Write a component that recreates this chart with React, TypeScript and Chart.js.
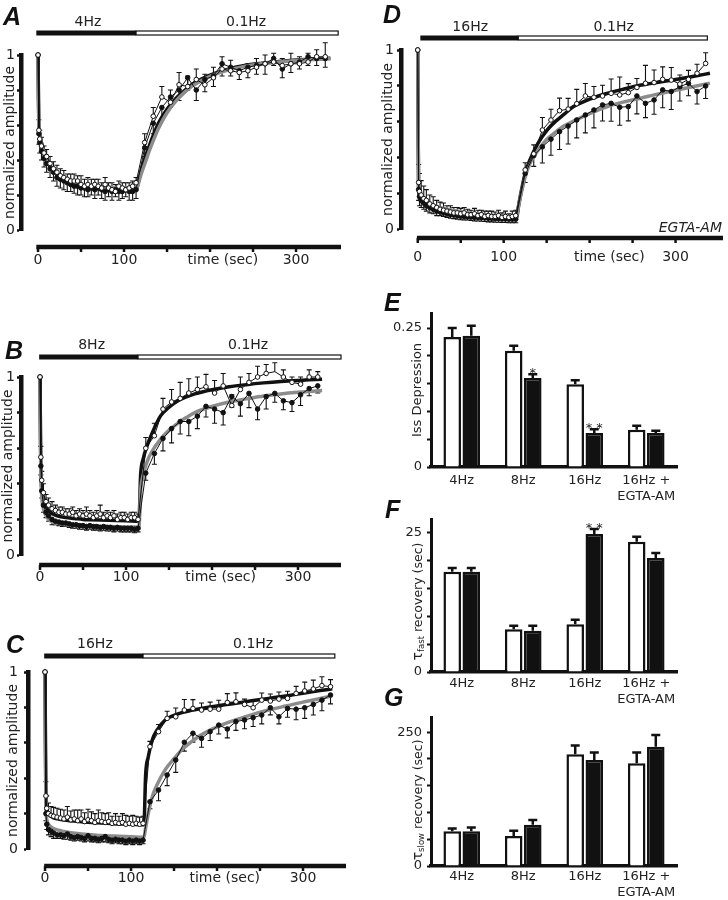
import React, { useEffect, useRef } from 'react';
import { Chart, registerables } from 'chart.js';
Chart.register(...registerables);

const FONT = '"DejaVu Sans", sans-serif';
const INK = '#111111';
const GRAY = '#8c8c8c';
const TEXT = '#222222';

// ---------- shared axes ----------
const lineYTicks = [0, 0.2, 0.4, 0.6, 0.8, 1];
const lineYLabels = ['0', '', '', '', '', '1'];
const xTickMarks = [0, 50, 100, 150, 200, 250, 300];
const xTickTexts = ['0', '100', 'time (sec)', '300'];

// sampling times during stimulation (s)
const stimTimes = [0, 1, 2, 4, 7, 10, 14, 18, 22, 26, 30, 34, 38, 42, 46, 50, 54, 58, 62, 66, 70, 74, 78, 82, 86, 90, 94, 98, 102, 106, 110, 114];
// times of the fitted curves (s)
const fitTimesBase = [0, 0.5, 1, 2, 4, 7, 10, 15, 20, 30, 40, 50, 60, 80, 100, 115, 117, 120, 125, 130, 140, 150, 160, 170, 180, 200, 220, 240, 260, 280, 300, 320];

// ---------- panel A (4Hz) ----------
const aRecT = [124, 134, 144, 154, 164, 174, 184, 194, 204, 214, 224, 234, 244, 254, 264, 274, 284, 294, 304, 314, 324, 334];
const aOpenStim = [1.0, 0.57, 0.52, 0.48, 0.44, 0.42, 0.38, 0.35, 0.33, 0.31, 0.30, 0.29, 0.28, 0.28, 0.28, 0.26, 0.25, 0.26, 0.25, 0.26, 0.25, 0.24, 0.26, 0.24, 0.23, 0.22, 0.25, 0.24, 0.23, 0.24, 0.25, 0.27];
const aOpenStimErr = [0, 0.06, 0.05, 0.05, 0.04, 0.04, 0.04, 0.04, 0.04, 0.04, 0.04, 0.03, 0.04, 0.04, 0.03, 0.05, 0.04, 0.04, 0.04, 0.03, 0.04, 0.03, 0.04, 0.03, 0.04, 0.04, 0.03, 0.03, 0.04, 0.03, 0.03, 0.03];
const aFilledStim = [1.0, 0.55, 0.5, 0.45, 0.41, 0.38, 0.35, 0.33, 0.30, 0.29, 0.28, 0.27, 0.26, 0.25, 0.25, 0.24, 0.24, 0.23, 0.24, 0.23, 0.24, 0.23, 0.22, 0.23, 0.22, 0.23, 0.22, 0.22, 0.23, 0.22, 0.22, 0.23];
const aFilledStimErr = [0, 0.06, 0.06, 0.05, 0.05, 0.05, 0.05, 0.05, 0.05, 0.05, 0.05, 0.05, 0.04, 0.04, 0.05, 0.04, 0.05, 0.04, 0.04, 0.05, 0.04, 0.05, 0.05, 0.04, 0.05, 0.04, 0.05, 0.04, 0.04, 0.05, 0.05, 0.05];
const aOpenRec = [0.50, 0.65, 0.76, 0.73, 0.83, 0.82, 0.86, 0.83, 0.87, 0.92, 0.91, 0.90, 0.91, 0.93, 0.95, 0.96, 0.94, 0.95, 0.95, 0.96, 0.99, 0.99];
const aOpenRecErr = [0.05, 0.05, 0.06, 0.07, 0.07, 0.06, 0.06, 0.06, 0.06, 0.07, 0.06, 0.04, 0.04, 0.05, 0.05, 0.05, 0.04, 0.06, 0.04, 0.05, 0.04, 0.08];
const aFilledRec = [0.47, 0.61, 0.70, 0.76, 0.80, 0.87, 0.80, 0.86, 0.88, 0.95, 0.93, 0.91, 0.93, 0.94, 0.95, 0.98, 0.92, 0.95, 0.96, 0.99, 0.98, 0.98];
const aFilledRecErr = [0.05, 0.06, 0.07, 0.06, 0.06, 0.07, 0.06, 0.07, 0.06, 0.07, 0.05, 0.05, 0.06, 0.05, 0.06, 0.04, 0.05, 0.05, 0.04, 0.05, 0.04, 0.05];
const aFitEnd = 340;
const aBlackFit = [1.0, 0.75, 0.6, 0.55, 0.5, 0.45, 0.41, 0.36, 0.33, 0.29, 0.27, 0.255, 0.248, 0.242, 0.24, 0.24, 0.28, 0.34, 0.42, 0.49, 0.61, 0.69, 0.75, 0.795, 0.835, 0.885, 0.918, 0.94, 0.953, 0.963, 0.971, 0.977, 0.981];
const aGrayFit = [1.0, 0.74, 0.59, 0.54, 0.49, 0.44, 0.40, 0.355, 0.325, 0.29, 0.27, 0.256, 0.249, 0.244, 0.242, 0.242, 0.27, 0.32, 0.39, 0.46, 0.58, 0.67, 0.735, 0.785, 0.825, 0.878, 0.912, 0.935, 0.95, 0.96, 0.968, 0.974, 0.978];
const aXLabelT = [0, 100, 215, 300];

// ---------- panel B (8Hz) ----------
const bRecT = [123, 133, 143, 153, 163, 173, 183, 193, 203, 213, 223, 233, 243, 253, 263, 273, 283, 293, 303, 313, 323];
const bOpenStim = [1.0, 0.55, 0.42, 0.35, 0.30, 0.28, 0.26, 0.25, 0.24, 0.24, 0.23, 0.23, 0.24, 0.22, 0.23, 0.22, 0.23, 0.22, 0.21, 0.22, 0.23, 0.21, 0.22, 0.21, 0.22, 0.20, 0.21, 0.21, 0.20, 0.21, 0.21, 0.20];
const bOpenStimErr = [0, 0.06, 0.05, 0.05, 0.04, 0.04, 0.04, 0.03, 0.03, 0.03, 0.03, 0.03, 0.03, 0.03, 0.03, 0.03, 0.04, 0.03, 0.03, 0.03, 0.05, 0.03, 0.03, 0.03, 0.03, 0.03, 0.03, 0.03, 0.03, 0.03, 0.03, 0.03];
const bFilledStim = [1.0, 0.5, 0.36, 0.28, 0.24, 0.22, 0.2, 0.19, 0.185, 0.18, 0.18, 0.175, 0.17, 0.17, 0.165, 0.165, 0.16, 0.165, 0.16, 0.16, 0.155, 0.16, 0.155, 0.155, 0.15, 0.155, 0.15, 0.15, 0.15, 0.15, 0.145, 0.15];
const bFilledStimErr = [0, 0.05, 0.04, 0.04, 0.03, 0.03, 0.03, 0.02, 0.02, 0.02, 0.02, 0.02, 0.02, 0.02, 0.02, 0.02, 0.02, 0.02, 0.02, 0.02, 0.02, 0.02, 0.02, 0.02, 0.02, 0.02, 0.02, 0.02, 0.02, 0.02, 0.02, 0.02];
const bOpenRec = [0.60, 0.67, 0.82, 0.86, 0.88, 0.91, 0.93, 0.945, 0.91, 0.95, 0.84, 0.93, 0.97, 1.0, 1.02, 1.03, 1.0, 0.97, 0.96, 1.0, 1.0];
const bOpenRecErr = [0.06, 0.07, 0.06, 0.07, 0.09, 0.08, 0.07, 0.07, 0.07, 0.07, 0.06, 0.07, 0.05, 0.06, 0.05, 0.05, 0.04, 0.03, 0.04, 0.04, 0.03];
const bFilledRec = [0.46, 0.57, 0.655, 0.71, 0.75, 0.75, 0.78, 0.835, 0.82, 0.80, 0.89, 0.85, 0.908, 0.82, 0.89, 0.908, 0.866, 0.856, 0.9, 0.935, 0.95];
const bFilledRecErr = [0.04, 0.06, 0.07, 0.08, 0.07, 0.08, 0.07, 0.06, 0.08, 0.07, 0.06, 0.07, 0.08, 0.06, 0.07, 0.05, 0.05, 0.05, 0.06, 0.04, 0.04];
const bFitEnd = 328;
const bBlackFit = [1.0, 0.7, 0.5, 0.38, 0.31, 0.27, 0.25, 0.23, 0.22, 0.21, 0.205, 0.2, 0.198, 0.195, 0.193, 0.19, 0.45, 0.54, 0.62, 0.68, 0.78, 0.83, 0.865, 0.888, 0.905, 0.928, 0.945, 0.957, 0.967, 0.975, 0.981, 0.986, 0.988];
const bGrayFit = [1.0, 0.65, 0.45, 0.33, 0.26, 0.22, 0.2, 0.185, 0.178, 0.17, 0.167, 0.165, 0.163, 0.16, 0.158, 0.157, 0.36, 0.45, 0.53, 0.58, 0.65, 0.70, 0.74, 0.772, 0.80, 0.835, 0.86, 0.877, 0.893, 0.905, 0.914, 0.921, 0.924];
const bXLabelT = [0, 100, 210, 300];

// ---------- panel C (16Hz) ----------
const cRecT = [122, 132, 142, 152, 162, 172, 182, 192, 202, 212, 222, 232, 242, 252, 262, 272, 282, 292, 302, 312, 322, 332];
const cOpenStim = [1.0, 0.30, 0.23, 0.2, 0.19, 0.185, 0.18, 0.175, 0.17, 0.18, 0.165, 0.17, 0.16, 0.17, 0.155, 0.165, 0.16, 0.15, 0.16, 0.155, 0.15, 0.155, 0.145, 0.15, 0.145, 0.15, 0.14, 0.145, 0.14, 0.145, 0.14, 0.145];
const cOpenStimErr = [0, 0.08, 0.07, 0.06, 0.05, 0.05, 0.05, 0.05, 0.05, 0.06, 0.05, 0.05, 0.06, 0.05, 0.05, 0.06, 0.05, 0.05, 0.06, 0.05, 0.05, 0.05, 0.04, 0.05, 0.04, 0.05, 0.05, 0.04, 0.05, 0.04, 0.04, 0.04];
const cFilledStim = [1.0, 0.2, 0.14, 0.11, 0.1, 0.09, 0.08, 0.08, 0.075, 0.085, 0.07, 0.065, 0.07, 0.065, 0.06, 0.075, 0.06, 0.06, 0.055, 0.06, 0.07, 0.055, 0.05, 0.055, 0.05, 0.05, 0.045, 0.05, 0.045, 0.05, 0.045, 0.05];
const cFilledStimErr = [0, 0.04, 0.03, 0.03, 0.03, 0.03, 0.02, 0.02, 0.02, 0.03, 0.02, 0.02, 0.02, 0.02, 0.02, 0.03, 0.02, 0.02, 0.02, 0.02, 0.03, 0.02, 0.02, 0.02, 0.02, 0.02, 0.02, 0.02, 0.02, 0.02, 0.02, 0.02];
const cOpenRec = [0.578, 0.663, 0.738, 0.747, 0.785, 0.794, 0.785, 0.79, 0.79, 0.828, 0.832, 0.817, 0.798, 0.841, 0.836, 0.847, 0.851, 0.879, 0.893, 0.904, 0.923, 0.917];
const cOpenRecErr = [0.03, 0.04, 0.04, 0.05, 0.06, 0.05, 0.04, 0.04, 0.05, 0.05, 0.05, 0.03, 0.04, 0.04, 0.04, 0.04, 0.04, 0.04, 0.05, 0.05, 0.05, 0.04];
const cFilledRec = [0.267, 0.333, 0.418, 0.503, 0.603, 0.654, 0.625, 0.663, 0.70, 0.678, 0.72, 0.729, 0.742, 0.757, 0.798, 0.747, 0.794, 0.79, 0.798, 0.817, 0.841, 0.87];
const cFilledRecErr = [0.04, 0.06, 0.06, 0.07, 0.05, 0.05, 0.05, 0.05, 0.05, 0.05, 0.05, 0.05, 0.05, 0.05, 0.04, 0.04, 0.05, 0.06, 0.06, 0.06, 0.06, 0.05];
const cFitEnd = 334;
const cBlackFit = [1.0, 0.6, 0.35, 0.24, 0.2, 0.185, 0.175, 0.17, 0.165, 0.16, 0.155, 0.151, 0.148, 0.143, 0.14, 0.137, 0.42, 0.52, 0.62, 0.67, 0.73, 0.755, 0.772, 0.783, 0.792, 0.808, 0.822, 0.837, 0.851, 0.865, 0.88, 0.895, 0.905];
const cGrayFit = [1.0, 0.5, 0.25, 0.17, 0.14, 0.125, 0.115, 0.107, 0.1, 0.092, 0.086, 0.082, 0.078, 0.073, 0.069, 0.066, 0.12, 0.2, 0.3, 0.36, 0.45, 0.51, 0.565, 0.605, 0.64, 0.69, 0.727, 0.758, 0.785, 0.808, 0.83, 0.85, 0.865];
const cXLabelT = [0, 100, 209, 300];

// ---------- panel D (16Hz, EGTA-AM) ----------
const dRecT = [125, 135, 145, 155, 165, 175, 185, 195, 205, 215, 225, 235, 245, 255, 265, 275, 285, 295, 305, 315, 325, 335];
const dOpenStim = [1.0, 0.26, 0.21, 0.19, 0.17, 0.16, 0.14, 0.13, 0.12, 0.11, 0.105, 0.1, 0.095, 0.09, 0.09, 0.085, 0.09, 0.08, 0.08, 0.085, 0.075, 0.08, 0.07, 0.075, 0.07, 0.07, 0.075, 0.065, 0.07, 0.065, 0.07, 0.075];
const dOpenStimErr = [0, 0.1, 0.1, 0.08, 0.07, 0.06, 0.05, 0.05, 0.04, 0.04, 0.04, 0.03, 0.035, 0.03, 0.03, 0.03, 0.03, 0.03, 0.025, 0.03, 0.03, 0.025, 0.03, 0.025, 0.03, 0.025, 0.03, 0.025, 0.03, 0.02, 0.03, 0.03];
const dFilledStim = [1.0, 0.22, 0.18, 0.16, 0.145, 0.13, 0.12, 0.11, 0.1, 0.095, 0.09, 0.085, 0.08, 0.078, 0.075, 0.072, 0.07, 0.07, 0.068, 0.065, 0.065, 0.063, 0.062, 0.06, 0.06, 0.058, 0.058, 0.057, 0.056, 0.055, 0.055, 0.055];
const dFilledStimErr = [0, 0.06, 0.05, 0.04, 0.035, 0.03, 0.03, 0.025, 0.025, 0.02, 0.02, 0.02, 0.02, 0.02, 0.02, 0.02, 0.02, 0.02, 0.02, 0.02, 0.02, 0.02, 0.02, 0.02, 0.02, 0.02, 0.02, 0.02, 0.02, 0.02, 0.02, 0.02];
const dOpenRec = [0.33, 0.42, 0.553, 0.609, 0.661, 0.67, 0.70, 0.743, 0.736, 0.743, 0.758, 0.749, 0.762, 0.791, 0.814, 0.818, 0.836, 0.832, 0.81, 0.836, 0.87, 0.925];
const dOpenRecErr = [0.04, 0.05, 0.07, 0.06, 0.07, 0.06, 0.08, 0.07, 0.06, 0.06, 0.08, 0.1, 0.05, 0.05, 0.1, 0.07, 0.07, 0.07, 0.05, 0.05, 0.05, 0.06];
const dFilledRec = [0.31, 0.41, 0.459, 0.502, 0.544, 0.575, 0.609, 0.637, 0.665, 0.693, 0.702, 0.68, 0.684, 0.743, 0.702, 0.721, 0.777, 0.768, 0.795, 0.814, 0.768, 0.799];
const dFilledRecErr = [0.05, 0.06, 0.09, 0.09, 0.1, 0.1, 0.1, 0.1, 0.1, 0.09, 0.1, 0.1, 0.08, 0.1, 0.08, 0.08, 0.1, 0.1, 0.08, 0.07, 0.07, 0.07];
const dFitEnd = 340;
const dBlackFit = [1.0, 0.5, 0.22, 0.18, 0.165, 0.15, 0.14, 0.128, 0.118, 0.105, 0.097, 0.09, 0.083, 0.074, 0.066, 0.06, 0.12, 0.2, 0.31, 0.38, 0.48, 0.55, 0.60, 0.64, 0.68, 0.725, 0.757, 0.782, 0.804, 0.82, 0.835, 0.852, 0.87];
const dGrayFit = [1.0, 0.52, 0.24, 0.2, 0.18, 0.165, 0.15, 0.138, 0.128, 0.115, 0.105, 0.097, 0.09, 0.08, 0.072, 0.067, 0.12, 0.19, 0.29, 0.36, 0.44, 0.50, 0.54, 0.575, 0.60, 0.645, 0.683, 0.71, 0.732, 0.755, 0.775, 0.795, 0.815];
const dXLabelT = [0, 100, 223, 300];

// ---------- bar panels ----------
const barCategories = ['4Hz', '8Hz', '16Hz', ['16Hz +', 'EGTA-AM']];

const eWhite = [0.234, 0.209, 0.149, 0.067];
const eWhiteErr = [0.016, 0.009, 0.007, 0.007];
const eBlack = [0.236, 0.160, 0.061, 0.061];
const eBlackErr = [0.018, 0.007, 0.007, 0.004];
const eBlackStars = ['', '*', '* *', ''];
const eTicks = [0, 0.05, 0.1, 0.15, 0.2, 0.25];
const eTickLabels = ['0', '', '', '', '', '0.25'];

const fWhite = [18.0, 7.7, 8.6, 23.4];
const fWhiteErr = [0.7, 0.6, 0.8, 0.9];
const fBlack = [18.0, 7.4, 24.8, 20.5];
const fBlackErr = [0.7, 0.9, 0.9, 0.9];
const fBlackStars = ['', '', '* *', ''];
const fTicks = [0, 5, 10, 15, 20, 25];
const fTickLabels = ['0', '', '', '', '', '25'];

const gWhite = [65, 56, 209, 192];
const gWhiteErr = [5, 10, 16, 20];
const gBlack = [65, 77, 198, 223];
const gBlackErr = [7, 9, 14, 22];
const gBlackStars = ['', '', '', ''];
const gTicks = [0, 50, 100, 150, 200, 250];
const gTickLabels = ['0', '', '', '', '', '250'];

// ---------- plugins ----------
const errorBarsPlugin = {
  id: 'errorBars',
  beforeDatasetsDraw(chart: any) {
    const { ctx } = chart;
    const ys = chart.scales.y;
    chart.data.datasets.forEach((ds: any, i: number) => {
      if (!ds.errs) return;
      const meta = chart.getDatasetMeta(i);
      ctx.save();
      ctx.strokeStyle = INK;
      ctx.lineWidth = ds.errWidth;
      meta.data.forEach((el: any, j: number) => {
        const e = ds.errs[j];
        if (!e) return;
        const raw = ds.data[j];
        const v = typeof raw === 'number' ? raw : raw.y;
        const yA = ys.getPixelForValue(v);
        const yB = ys.getPixelForValue(v + ds.errDir * e);
        const x = el.x;
        ctx.beginPath();
        ctx.moveTo(x, yA);
        ctx.lineTo(x, yB);
        ctx.moveTo(x - ds.capHalf, yB);
        ctx.lineTo(x + ds.capHalf, yB);
        ctx.stroke();
      });
      ctx.restore();
    });
  },
  afterDatasetsDraw(chart: any) {
    const { ctx } = chart;
    const ys = chart.scales.y;
    chart.data.datasets.forEach((ds: any, i: number) => {
      if (!ds.stars) return;
      const meta = chart.getDatasetMeta(i);
      ctx.save();
      ctx.fillStyle = TEXT;
      ctx.font = `13px ${FONT}`;
      ctx.textAlign = 'center';
      ctx.textBaseline = 'alphabetic';
      meta.data.forEach((el: any, j: number) => {
        const s = ds.stars[j];
        if (!s) return;
        const top = ys.getPixelForValue(ds.data[j] + (ds.errs ? ds.errs[j] : 0));
        ctx.fillText(s, el.x, top + 3);
      });
      ctx.restore();
    });
  },
};

function makeLineDecor(p: any) {
  return {
    id: 'lineDecor',
    afterDraw(chart: any) {
      const { ctx, chartArea: ca } = chart;
      const xs = chart.scales.x;
      ctx.save();
      const y0 = ca.bottom + p.axisGap;
      ctx.strokeStyle = INK;
      ctx.lineWidth = 4.5;
      ctx.beginPath();
      ctx.moveTo(xs.getPixelForValue(p.axisFrom), y0);
      ctx.lineTo(ca.right, y0);
      ctx.stroke();
      ctx.lineWidth = 2.5;
      for (const t of xTickMarks) {
        const px = xs.getPixelForValue(t);
        ctx.beginPath();
        ctx.moveTo(px, y0);
        ctx.lineTo(px, y0 + 5);
        ctx.stroke();
      }
      const yb = ca.top - p.stimGap;
      const xa = xs.getPixelForValue(p.stimStart);
      const xm = xs.getPixelForValue(p.stimSplit);
      const xe = xs.getPixelForValue(p.stimEnd);
      ctx.fillStyle = INK;
      ctx.fillRect(xa, yb - 2.5, xm - xa, 5);
      ctx.fillStyle = '#ffffff';
      ctx.fillRect(xm, yb - 2.5, xe - xm, 5);
      ctx.lineWidth = 1.2;
      ctx.strokeRect(xm, yb - 2, xe - xm, 4);
      ctx.fillStyle = TEXT;
      ctx.font = `14px ${FONT}`;
      ctx.textAlign = 'center';
      ctx.textBaseline = 'middle';
      p.stimLabels.forEach((s: string, i: number) => ctx.fillText(s, xs.getPixelForValue(p.stimLabelT[i]), yb - p.stimTextGap));
      if (p.note) {
        ctx.font = `italic 14px ${FONT}`;
        ctx.textAlign = 'right';
        ctx.fillText(p.note, ca.right - 1, ca.bottom - 1);
      }
      ctx.restore();
    },
  };
}

function makeRichTitle(parts: any[], offsetX: number, offsetY: number) {
  return {
    id: 'richTitle',
    afterDraw(chart: any) {
      const ys = chart.scales.y;
      const ctx = chart.ctx;
      ctx.save();
      ctx.translate(ys.left + offsetX, (ys.top + ys.bottom) / 2 + offsetY);
      ctx.rotate(-Math.PI / 2);
      ctx.fillStyle = TEXT;
      ctx.textBaseline = 'alphabetic';
      ctx.textAlign = 'left';
      let total = 0;
      for (const pt of parts) {
        ctx.font = `${pt.size}px ${FONT}`;
        total += ctx.measureText(pt.text).width;
      }
      let x = -total / 2;
      for (const pt of parts) {
        ctx.font = `${pt.size}px ${FONT}`;
        ctx.fillText(pt.text, x, pt.base);
        x += ctx.measureText(pt.text).width;
      }
      ctx.restore();
    },
  };
}

const pts = (ts: number[], vs: number[]) => ts.map((t, i) => ({ x: t, y: vs[i] }));

function lineConfig(p: any) {
  const dataT = [...stimTimes, ...p.recT];
  const fitT = [...fitTimesBase, p.fitEnd];
  const common = { borderColor: INK, borderWidth: 1, pointRadius: 2.3, pointBorderColor: INK, pointBorderWidth: 1, clip: false, errWidth: 1.1, capHalf: 2.5 };
  return {
    type: 'line',
    data: {
      datasets: [
        { ...common, data: pts(dataT, [...p.openStim, ...p.openRec]), errs: [...p.openStimErr, ...p.openRecErr], errDir: 1, pointBackgroundColor: '#ffffff' },
        { ...common, data: pts(dataT, [...p.filledStim, ...p.filledRec]), errs: [...p.filledStimErr, ...p.filledRecErr], errDir: -1, pointBackgroundColor: INK },
        { data: pts(fitT, p.grayFit), borderColor: GRAY, borderWidth: 3.5, pointRadius: 0, cubicInterpolationMode: 'monotone', clip: false },
        { data: pts(fitT, p.blackFit), borderColor: INK, borderWidth: 3.5, pointRadius: 0, cubicInterpolationMode: 'monotone', clip: false },
      ],
    },
    options: {
      responsive: false,
      maintainAspectRatio: false,
      animation: false,
      events: [],
      layout: { padding: p.padding },
      plugins: { legend: { display: false }, tooltip: { enabled: false } },
      scales: {
        x: {
          type: 'linear',
          min: p.xMin,
          max: p.xMax,
          afterBuildTicks: (s: any) => { s.ticks = p.xLabelT.map((v: number) => ({ value: v })); },
          afterFit: (s: any) => { s.height = p.xHeight; },
          grid: { display: false, drawTicks: false },
          border: { display: false },
          ticks: { callback: (_v: any, i: number) => xTickTexts[i], padding: p.labelPad, color: TEXT, font: { family: FONT, size: 14 }, autoSkip: false, maxRotation: 0 },
        },
        y: {
          min: 0,
          max: 1,
          afterBuildTicks: (s: any) => { s.ticks = lineYTicks.map((v) => ({ value: v })); },
          afterFit: (s: any) => { s.width = p.yWidth; },
          grid: { drawOnChartArea: false, drawTicks: true, tickLength: 4, tickWidth: 2.5, tickColor: INK, color: INK },
          border: { display: true, width: 4.5, color: INK },
          ticks: { callback: (_v: any, i: number) => lineYLabels[i], padding: p.yLabelPad, color: TEXT, font: { family: FONT, size: 14 }, autoSkip: false },
          title: { display: true, text: 'normalized amplitude', color: TEXT, font: { family: FONT, size: 14 }, padding: { top: p.titlePad, bottom: 0 } },
        },
      },
    },
    plugins: [errorBarsPlugin, makeLineDecor(p)],
  };
}

function barConfig(p: any) {
  const common = { borderColor: INK, borderWidth: 2.5, categoryPercentage: 0.62, barPercentage: 0.92, errWidth: 2.5, capHalf: 4.5, errDir: 1 };
  return {
    type: 'bar',
    data: {
      labels: barCategories,
      datasets: [
        { ...common, data: p.white, errs: p.whiteErr, backgroundColor: '#ffffff' },
        { ...common, data: p.black, errs: p.blackErr, backgroundColor: INK, stars: p.blackStars },
      ],
    },
    options: {
      responsive: false,
      maintainAspectRatio: false,
      animation: false,
      events: [],
      layout: { padding: p.padding },
      plugins: { legend: { display: false }, tooltip: { enabled: false } },
      scales: {
        x: {
          afterFit: (s: any) => { s.height = p.xHeight; },
          grid: { display: false, drawTicks: false },
          border: { display: true, width: 3.5, color: INK },
          ticks: { padding: p.labelPad, color: TEXT, font: { family: FONT, size: 13, lineHeight: 1.2 }, autoSkip: false, maxRotation: 0 },
        },
        y: {
          min: 0,
          max: p.yMax,
          afterBuildTicks: (s: any) => { s.ticks = p.ticks.map((v: number) => ({ value: v })); },
          afterFit: (s: any) => { s.width = p.yWidth; },
          grid: { drawOnChartArea: false, drawTicks: true, tickLength: 4, tickWidth: 2, tickColor: INK, color: INK },
          border: { display: true, width: 3, color: INK },
          ticks: { callback: (_v: any, i: number) => p.tickLabels[i], padding: 5, color: TEXT, font: { family: FONT, size: 13 }, autoSkip: false },
          title: { display: !!p.title, text: p.title || '', color: TEXT, font: { family: FONT, size: 13 }, padding: { top: p.titlePad, bottom: 0 } },
        },
      },
    },
    plugins: p.richTitle ? [errorBarsPlugin, makeRichTitle(p.richTitle, 53, p.richTitleDY)] : [errorBarsPlugin],
  };
}

const panelA = {
  recT: aRecT, openStim: aOpenStim, openStimErr: aOpenStimErr, filledStim: aFilledStim, filledStimErr: aFilledStimErr,
  openRec: aOpenRec, openRecErr: aOpenRecErr, filledRec: aFilledRec, filledRecErr: aFilledRecErr,
  fitEnd: aFitEnd, blackFit: aBlackFit, grayFit: aGrayFit, xLabelT: aXLabelT,
  padding: { left: 0, top: 55, right: 23, bottom: 0 }, xMin: -19.8, xMax: 352.3, xHeight: 45, yWidth: 21,
  labelPad: 21.5, yLabelPad: 2, titlePad: 2, axisGap: 17, axisFrom: -2,
  stimGap: 22, stimTextGap: 11, stimStart: -2, stimSplit: 114, stimEnd: 349, stimLabels: ['4Hz', '0.1Hz'], stimLabelT: [58, 242],
};
const panelB = {
  recT: bRecT, openStim: bOpenStim, openStimErr: bOpenStimErr, filledStim: bFilledStim, filledStimErr: bFilledStimErr,
  openRec: bOpenRec, openRecErr: bOpenRecErr, filledRec: bFilledRec, filledRecErr: bFilledRecErr,
  fitEnd: bFitEnd, blackFit: bBlackFit, grayFit: bGrayFit, xLabelT: bXLabelT,
  padding: { left: 0, top: 77, right: 23, bottom: 0 }, xMin: -22.1, xMax: 350, xHeight: 35, yWidth: 21,
  labelPad: 13.5, yLabelPad: 2, titlePad: 0, axisGap: 10, axisFrom: -1,
  stimGap: 20, stimTextGap: 12, stimStart: -1, stimSplit: 114, stimEnd: 350, stimLabels: ['8Hz', '0.1Hz'], stimLabelT: [60, 242],
};
const panelC = {
  recT: cRecT, openStim: cOpenStim, openStimErr: cOpenStimErr, filledStim: cFilledStim, filledStimErr: cFilledStimErr,
  openRec: cOpenRec, openRecErr: cOpenRecErr, filledRec: cFilledRec, filledRecErr: cFilledRecErr,
  fitEnd: cFitEnd, blackFit: cBlackFit, grayFit: cGrayFit, xLabelT: cXLabelT,
  padding: { left: 0, top: 52, right: 18, bottom: 0 }, xMin: -19.8, xMax: 350, xHeight: 51, yWidth: 28,
  labelPad: 20.5, yLabelPad: 6, titlePad: 4.5, axisGap: 17, axisFrom: -1,
  stimGap: 16, stimTextGap: 12, stimStart: -1, stimSplit: 114, stimEnd: 337, stimLabels: ['16Hz', '0.1Hz'], stimLabelT: [58, 242],
};
const panelD = {
  recT: dRecT, openStim: dOpenStim, openStimErr: dOpenStimErr, filledStim: dFilledStim, filledStimErr: dFilledStimErr,
  openRec: dOpenRec, openRecErr: dOpenRecErr, filledRec: dFilledRec, filledRecErr: dFilledRecErr,
  fitEnd: dFitEnd, blackFit: dBlackFit, grayFit: dGrayFit, xLabelT: dXLabelT,
  padding: { left: 0, top: 50, right: 1, bottom: 0 }, xMin: -19.5, xMax: 355.2, xHeight: 46, yWidth: 37,
  labelPad: 19.5, yLabelPad: 3, titlePad: 15.5, axisGap: 9, axisFrom: -1,
  stimGap: 12, stimTextGap: 11, stimStart: 3, stimSplit: 117, stimEnd: 337, stimLabels: ['16Hz', '0.1Hz'], stimLabelT: [61, 228],
  note: 'EGTA-AM',
};

const panelE = {
  white: eWhite, whiteErr: eWhiteErr, black: eBlack, blackErr: eBlackErr, blackStars: eBlackStars,
  ticks: eTicks, tickLabels: eTickLabels, yMax: 0.277, title: 'Iss Depression', titlePad: 46,
  padding: { left: 0, top: 33, right: 51, bottom: 0 }, yWidth: 67, xHeight: 38, labelPad: 6,
};
const panelF = {
  white: fWhite, whiteErr: fWhiteErr, black: fBlack, blackErr: fBlackErr, blackStars: fBlackStars,
  ticks: fTicks, tickLabels: fTickLabels, yMax: 27.5, titlePad: 0,
  richTitle: [{ text: 'τ', size: 14, base: 5 }, { text: 'fast', size: 8.5, base: 7 }, { text: ' recovery (sec)', size: 12.5, base: 5 }],
  richTitleDY: 6,
  padding: { left: 0, top: 14, right: 51, bottom: 0 }, yWidth: 67, xHeight: 38, labelPad: 4,
};
const panelG = {
  white: gWhite, whiteErr: gWhiteErr, black: gBlack, blackErr: gBlackErr, blackStars: gBlackStars,
  ticks: gTicks, tickLabels: gTickLabels, yMax: 277, titlePad: 0,
  richTitle: [{ text: 'τ', size: 14, base: 5 }, { text: 'slow', size: 8.5, base: 7 }, { text: ' recovery (sec)', size: 12.5, base: 5 }],
  richTitleDY: 8,
  padding: { left: 0, top: 7, right: 51, bottom: 0 }, yWidth: 67, xHeight: 34, labelPad: 3,
};

function ChartBox({ left, top, width, height, make }: any) {
  const ref = useRef<HTMLCanvasElement>(null);
  useEffect(() => {
    const chart = new Chart(ref.current as HTMLCanvasElement, make() as any);
    return () => chart.destroy();
  }, []);
  return (
    <div style={{ position: 'absolute', left, top, width, height }}>
      <canvas ref={ref} width={width} height={height} style={{ width, height, display: 'block' }} />
    </div>
  );
}

function Letter({ text, left, top }: any) {
  return (
    <div style={{ position: 'absolute', left, top, fontFamily: '"Liberation Sans", Arial, sans-serif', fontWeight: 'bold', fontStyle: 'italic', fontSize: 25, lineHeight: '25px', color: INK }}>
      {text}
    </div>
  );
}

export default function App() {
  return (
    <div style={{ position: 'absolute', left: 0, top: 0, width: 728, height: 900, background: '#ffffff', overflow: 'hidden' }}>
      <ChartBox left={0} top={0} width={364} height={275} make={() => lineConfig(panelA)} />
      <ChartBox left={0} top={300} width={364} height={290} make={() => lineConfig(panelB)} />
      <ChartBox left={0} top={620} width={364} height={280} make={() => lineConfig(panelC)} />
      <ChartBox left={364} top={0} width={364} height={275} make={() => lineConfig(panelD)} />
      <ChartBox left={364} top={280} width={364} height={225} make={() => barConfig(panelE)} />
      <ChartBox left={364} top={505} width={364} height={205} make={() => barConfig(panelF)} />
      <ChartBox left={364} top={705} width={364} height={195} make={() => barConfig(panelG)} />
      <Letter text="A" left={3} top={4} />
      <Letter text="B" left={5} top={338} />
      <Letter text="C" left={6} top={632} />
      <Letter text="D" left={383} top={2} />
      <Letter text="E" left={384} top={290} />
      <Letter text="F" left={385} top={497} />
      <Letter text="G" left={384} top={685} />
    </div>
  );
}
